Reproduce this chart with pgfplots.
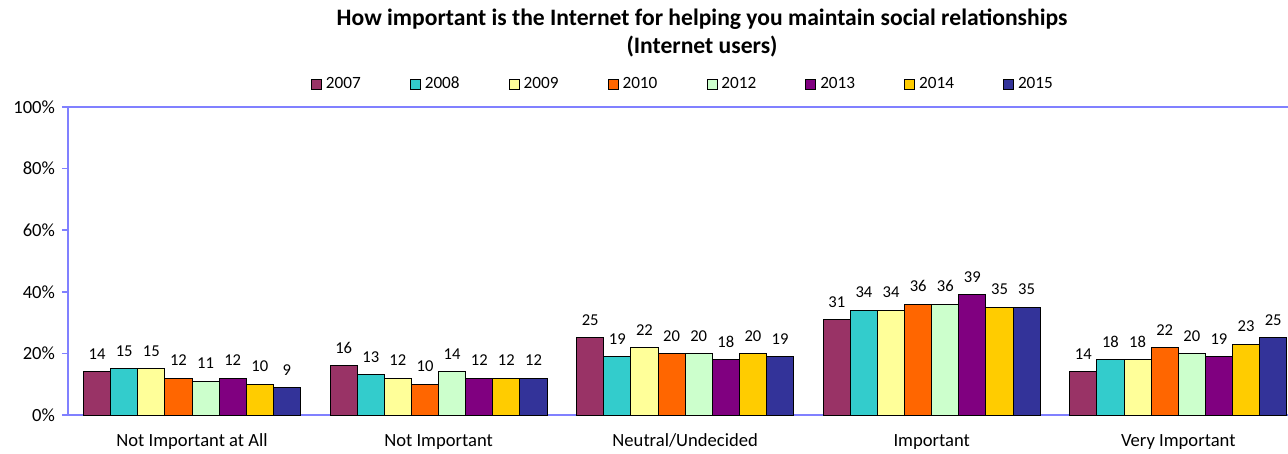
\documentclass[border=0pt]{standalone}
\usepackage{pgfplots}
\pgfplotsset{compat=1.18}
\usetikzlibrary{calc}
\usepackage{fontspec}
\setmainfont{Carlito}
\definecolor{c07}{HTML}{993366}
\definecolor{c08}{HTML}{33CCCC}
\definecolor{c09}{HTML}{FFFF99}
\definecolor{c10}{HTML}{FF6600}
\definecolor{c12}{HTML}{CCFFCC}
\definecolor{c13}{HTML}{800080}
\definecolor{c14}{HTML}{FFCC00}
\definecolor{c15}{HTML}{333399}
\definecolor{axcol}{HTML}{8080FF}
\pgfplotsset{
  barstyle/.style={draw=black, line width=0.5pt, fill=#1},
}
\begin{document}
\begin{tikzpicture}
\begin{axis}[
  name=ax,
  scale only axis,
  width=610pt, height=154pt,
  ybar=0pt, bar width=0.11,
  xmin=-0.503, xmax=4.445,
  ymin=0, ymax=100,
  axis x line=bottom, axis y line=left,
  axis line style={axcol, line width=0.8pt, -},
  xtick={0,1,2,3,4},
  xticklabels={Not Important at All, Not Important, Neutral/Undecided, Important, Very Important},
  x tick label style={font=\fontsize{9.3}{11}\selectfont, yshift=-3pt},
  xtick style={draw=none},
  ytick={0,20,40,60,80,100},
  yticklabels={0\%,20\%,40\%,60\%,80\%,100\%},
  y tick label style={font=\fontsize{9.3}{11}\selectfont},
  ytick style={axcol, line width=0.8pt},
  tick align=outside, major tick length=3pt,
  nodes near coords,
  every node near coord/.append style={font=\fontsize{8.3}{9}\selectfont, black, yshift=2.5pt},
  /pgf/number format/assume math mode=true,
  legend columns=8,
  legend style={draw=none, fill=none, at={(308pt,165.5pt)}, anchor=center, font=\fontsize{8.6}{10}\selectfont,
    /tikz/every even column/.append style={column sep=22.6pt}},
  legend image code/.code={\draw[#1, draw=black, line width=0.4pt] (0pt,-2.5pt) rectangle (5pt,2.5pt);},
  clip=false,
]
\addplot[barstyle=c07] coordinates {(0,14) (1,16) (2,25) (3,31) (4,14)};
\addplot[barstyle=c08] coordinates {(0,15) (1,13) (2,19) (3,34) (4,18)};
\addplot[barstyle=c09] coordinates {(0,15) (1,12) (2,22) (3,34) (4,18)};
\addplot[barstyle=c10] coordinates {(0,12) (1,10) (2,20) (3,36) (4,22)};
\addplot[barstyle=c12] coordinates {(0,11) (1,14) (2,20) (3,36) (4,20)};
\addplot[barstyle=c13] coordinates {(0,12) (1,12) (2,18) (3,39) (4,19)};
\addplot[barstyle=c14] coordinates {(0,10) (1,12) (2,20) (3,35) (4,23)};
\addplot[barstyle=c15] coordinates {(0,9) (1,12) (2,19) (3,35) (4,25)};
\legend{2007,2008,2009,2010,2012,2013,2014,2015}
\draw[axcol, line width=0.8pt] (rel axis cs:0,1) -- (rel axis cs:1,1);
\end{axis}
\node[font=\bfseries\fontsize{11.8}{13.6}\selectfont, align=center] at ($(ax.south west)+(317pt,191pt)$) {How important is the Internet for helping you maintain social relationships\\(Internet users)};
\pgfresetboundingbox
\path[use as bounding box] ($(ax.south west)+(-34pt,-19.5pt)$) rectangle ($(ax.north east)+(0pt,53.5pt)$);
\end{tikzpicture}
\end{document}
